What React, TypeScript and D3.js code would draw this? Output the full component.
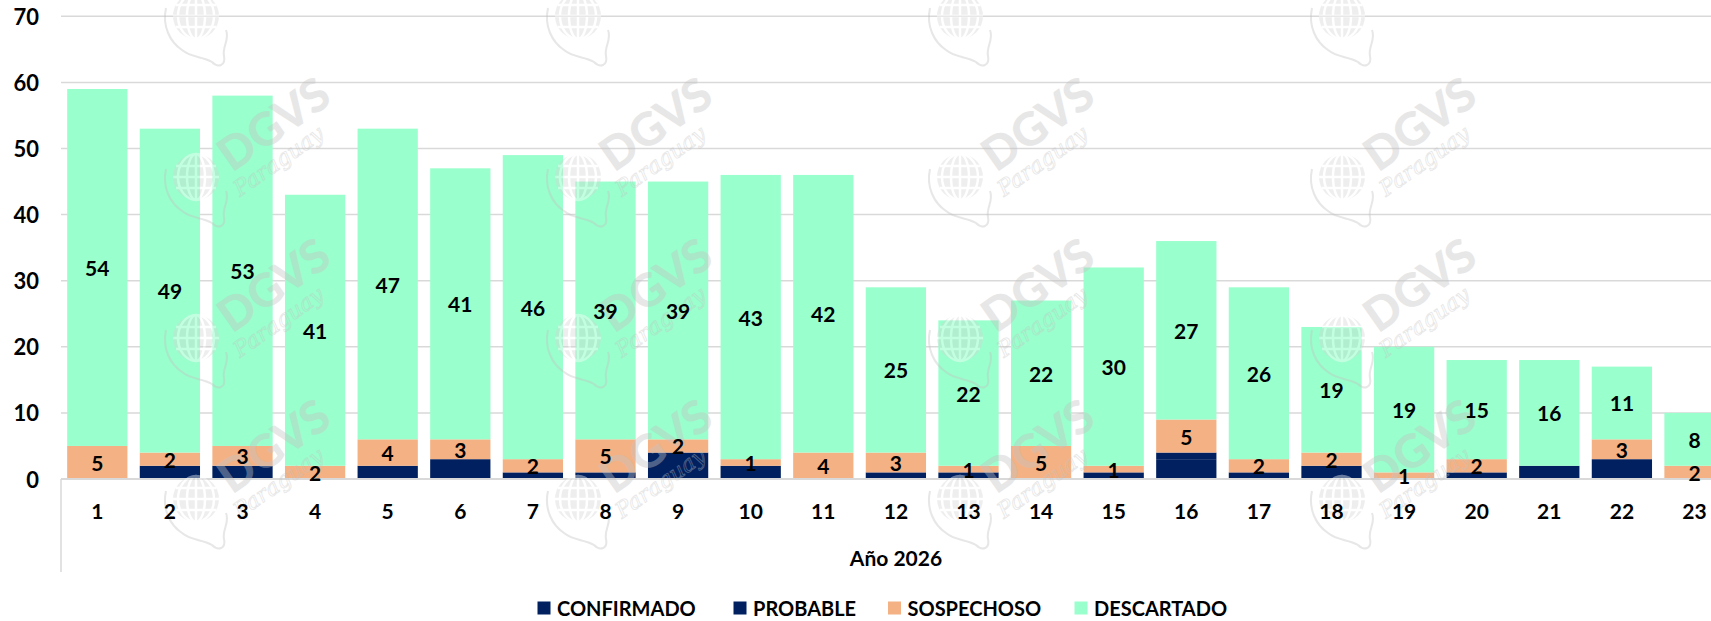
import React from 'react';
import * as d3 from 'd3';

const weeks = ['1','2','3','4','5','6','7','8','9','10','11','12','13','14','15','16','17','18','19','20','21','22','23'];
const confirmado = [0,0,0,0,0,0,0,0,0,0,0,0,0,0,0,3,0,0,0,0,0,0,0];
const probable =   [0,2,2,0,2,3,1,1,4,2,0,1,1,0,1,1,1,2,0,1,2,3,0];
const sospechoso = [5,2,3,2,4,3,2,5,2,1,4,3,1,5,1,5,2,2,1,2,0,3,2];
const descartado = [54,49,53,41,47,41,46,39,39,43,42,25,22,22,30,27,26,19,19,15,16,11,8];
const seriesKeys = ['c','p','s','d'];
const seriesNames = ['CONFIRMADO','PROBABLE','SOSPECHOSO','DESCARTADO'];
const seriesColors = ['#002060','#002060','#F4B183','#99FFCC'];
const labeledKeys = ['s','d'];
const yTicks = [0,10,20,30,40,50,60,70];
const axisTitle = 'Año 2026';

const FONT = 'Lato, "Open Sans", sans-serif';

function Watermark({ gx, gy, withText }: { gx: number; gy: number; withText: boolean }) {
  const c = '#c4c4c4';
  return (
    <g transform={`translate(${gx},${gy})`} opacity={0.4} pointerEvents="none">
      <path d="M-30,-8 C-34,10 -26,26 -14,34 C-4,42 6,40 16,46 C22,52 30,50 28,40 C26,30 34,24 30,14"
        fill="none" stroke={c} strokeWidth={2} />
      <circle r={23} fill="#d6d6d6" />
      <g stroke="#ffffff" strokeWidth={2.5} fill="none">
        <ellipse rx={9} ry={23} />
        <ellipse rx={18} ry={23} />
        <line x1={-23} y1={0} x2={23} y2={0} />
        <line x1={-20} y1={-11} x2={20} y2={-11} />
        <line x1={-20} y1={11} x2={20} y2={11} />
        <line x1={0} y1={-23} x2={0} y2={23} />
      </g>
      {withText && (
        <>
          <text transform="translate(36,-4) rotate(-35)" fontFamily={FONT} fontWeight={900}
            fontSize={46} fill={c}>DGVS</text>
          <text transform="translate(44,20) rotate(-35)" fontFamily='"DejaVu Serif", serif' fontStyle="italic"
            fontSize={22} fill="none" stroke={c} strokeWidth={0.8}>Paraguay</text>
        </>
      )}
    </g>
  );
}

export default function App() {
  const W = 1711, H = 621;
  const plotLeft = 61;
  const x = d3.scaleBand<string>().domain(weeks)
    .range([plotLeft, plotLeft + weeks.length * 72.6])
    .paddingInner(0.17).paddingOuter(0.085);
  const y = d3.scaleLinear().domain([0, 70]).range([479, 16.3]);

  const rows = weeks.map((w, i) => ({ week: w, c: confirmado[i], p: probable[i], s: sospechoso[i], d: descartado[i] }));
  const stacked = d3.stack<any>().keys(seriesKeys)(rows);

  const wmX = [196, 578, 960, 1342];
  const wmY = [16, 177, 338, 499];
  const legendX = [537.5, 733.5, 888, 1074.5];

  return (
    <svg width={W} height={H} style={{ position: 'absolute', left: 0, top: 0, background: '#fff' }}>
      <rect x={0} y={0} width={W} height={H} fill="#fff" />
      {yTicks.filter(t => t > 0).map(t => (
        <line key={t} x1={plotLeft} x2={W} y1={y(t)} y2={y(t)} stroke="#d9d9d9" strokeWidth={1.5} />
      ))}
      {stacked.map((layer, li) => (
        <g key={layer.key} fill={seriesColors[li]}>
          {layer.map((seg, i) => {
            const h = y(seg[0]) - y(seg[1]);
            if (h <= 0) return null;
            return <rect key={i} x={x(weeks[i])} y={y(seg[1])} width={x.bandwidth()} height={h} />;
          })}
        </g>
      ))}
      <line x1={plotLeft} x2={W} y1={y(0)} y2={y(0)} stroke="#d9d9d9" strokeWidth={2} />
      <line x1={plotLeft} x2={plotLeft} y1={y(0)} y2={572} stroke="#d9d9d9" strokeWidth={1.5} />
      {wmY.map((wy, j) => wmX.map(wx => (
        <Watermark key={`${wx}-${wy}`} gx={wx} gy={wy} withText={j > 0} />
      )))}
      {yTicks.map(t => (
        <text key={t} x={39} y={y(t)} textAnchor="end" dominantBaseline="central"
          fontFamily={FONT} fontWeight={700} fontSize={22} fill="#000">{t}</text>
      ))}
      {weeks.map(w => (
        <text key={w} x={(x(w) as number) + x.bandwidth() / 2} y={510} textAnchor="middle" dominantBaseline="central"
          fontFamily={FONT} fontWeight={700} fontSize={21} fill="#000">{w}</text>
      ))}
      {stacked.filter(l => labeledKeys.includes(l.key)).map(layer => (
        <g key={'lab' + layer.key}>
          {layer.map((seg, i) => {
            const v = seg[1] - seg[0];
            if (v <= 0) return null;
            return (
              <text key={i} x={(x(weeks[i]) as number) + x.bandwidth() / 2} y={y((seg[0] + seg[1]) / 2)}
                textAnchor="middle" dominantBaseline="central" fontFamily={FONT} fontWeight={700}
                fontSize={21} fill="#000">{v}</text>
            );
          })}
        </g>
      ))}
      <text x={896} y={557} textAnchor="middle" dominantBaseline="central"
        fontFamily={FONT} fontWeight={700} fontSize={21} fill="#000">{axisTitle}</text>
      {seriesNames.map((n, i) => (
        <g key={n}>
          <rect x={legendX[i]} y={601.5} width={13} height={13} fill={seriesColors[i]} />
          <text x={legendX[i] + 19.5} y={608} dominantBaseline="central" fontFamily={FONT}
            fontWeight={700} fontSize={20} fill="#000">{n}</text>
        </g>
      ))}
    </svg>
  );
}
